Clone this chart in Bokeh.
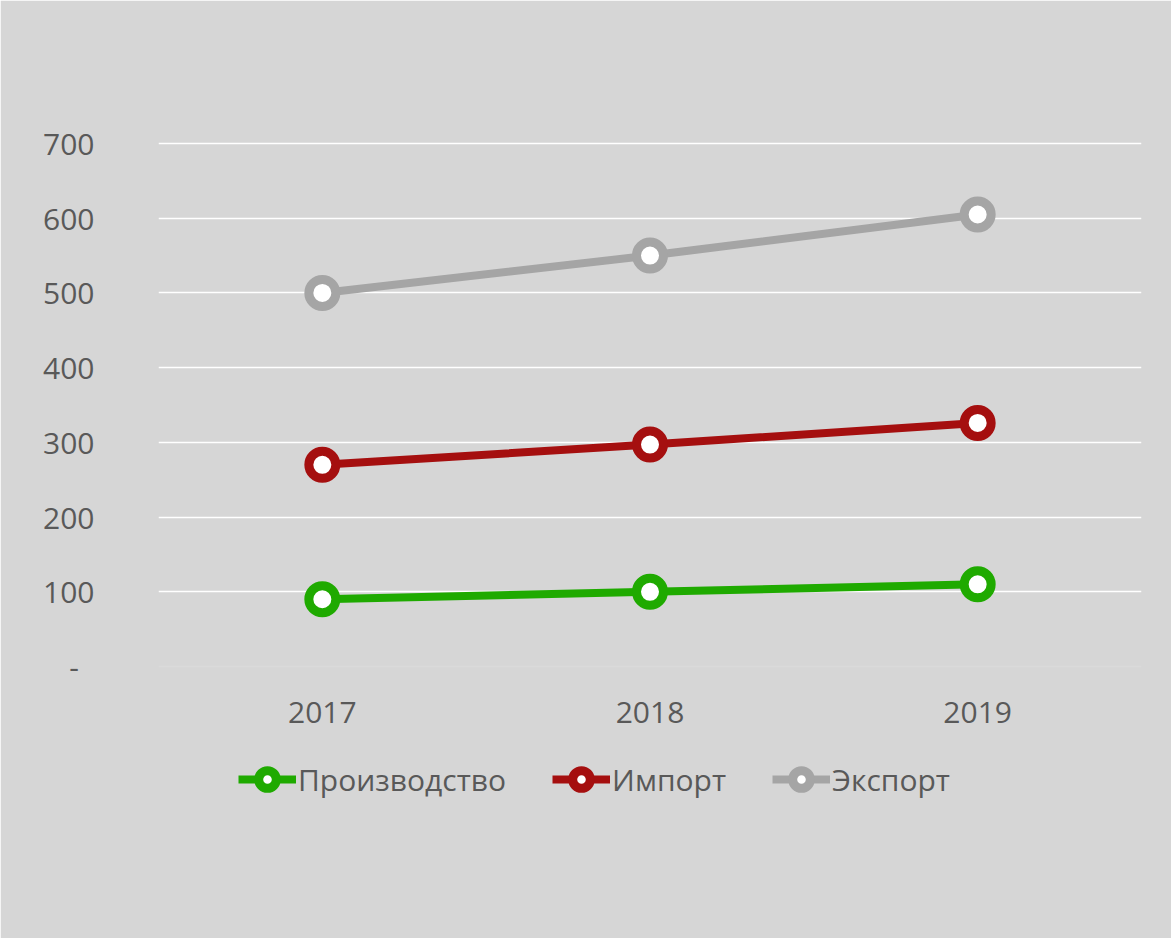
from bokeh.plotting import figure
from bokeh.models import Range1d, FactorRange, FixedTicker, Legend, LegendItem
from bokeh.embed import file_html
from bokeh.resources import INLINE

years = ["2017", "2018", "2019"]
production = [90, 100, 110]
imports = [270, 297, 326]
exports = [500, 550, 605]
series_names = ["Производство", "Импорт", "Экспорт"]
series_colors = ["#1faa00", "#a50f0f", "#a5a5a5"]
y_ticks = [0, 100, 200, 300, 400, 500, 600, 700]

FONT = "Open Sans"
TEXT_COLOR = "#595959"
BG = "#d6d6d6"

# frame extends below zero so the legend sits inside it; 74.71 px per 100 units
p = figure(frame_width=983, frame_height=719, output_backend="svg", toolbar_location=None,
           x_range=FactorRange(*years, range_padding=0),
           y_range=Range1d(-259.7, 702.7),
           min_border_left=158, min_border_right=30,
           min_border_top=141, min_border_bottom=78)
p.background_fill_color = BG
p.border_fill_color = BG
p.outline_line_color = BG
p.outline_line_width = 2

p.xgrid.grid_line_color = None
p.ygrid.grid_line_color = "white"
p.ygrid.grid_line_width = 1.5
p.ygrid.ticker = FixedTicker(ticks=y_ticks[1:])

p.yaxis.ticker = FixedTicker(ticks=y_ticks)
p.yaxis.major_label_overrides = {0: "-\u00a0\u00a0"}
p.yaxis.axis_line_color = None
p.yaxis.major_tick_line_color = None
p.yaxis.minor_tick_line_color = None
p.yaxis.major_label_standoff = 58
p.yaxis.major_label_text_font = FONT
p.yaxis.major_label_text_font_size = "30px"
p.yaxis.major_label_text_color = TEXT_COLOR

p.xaxis.fixed_location = 0
p.xaxis.axis_line_color = "#dadada"
p.xaxis.axis_line_width = 1.5
p.xaxis.major_tick_line_color = None
p.xaxis.minor_tick_line_color = None
p.xaxis.major_label_standoff = 30
p.xaxis.major_label_text_font = FONT
p.xaxis.major_label_text_font_size = "30px"
p.xaxis.major_label_text_color = TEXT_COLOR

items = []
for name, vals, col in zip(series_names, [production, imports, exports], series_colors):
    ln = p.line(years, vals, line_color=col, line_width=8)
    sc = p.scatter(years, vals, marker="circle", size=27, fill_color="white",
                   line_color=col, line_width=9)
    items.append(LegendItem(label=name, renderers=[ln, sc]))

legend = Legend(items=items, orientation="horizontal", location=(80, 59),
                glyph_width=58, glyph_height=44, label_standoff=2, spacing=46,
                padding=0, margin=0,
                label_text_font=FONT, label_text_font_size="30px",
                label_text_color=TEXT_COLOR,
                background_fill_alpha=0, border_line_color=None)
p.add_layout(legend)

open("out.html", "w").write(file_html(p, INLINE))
